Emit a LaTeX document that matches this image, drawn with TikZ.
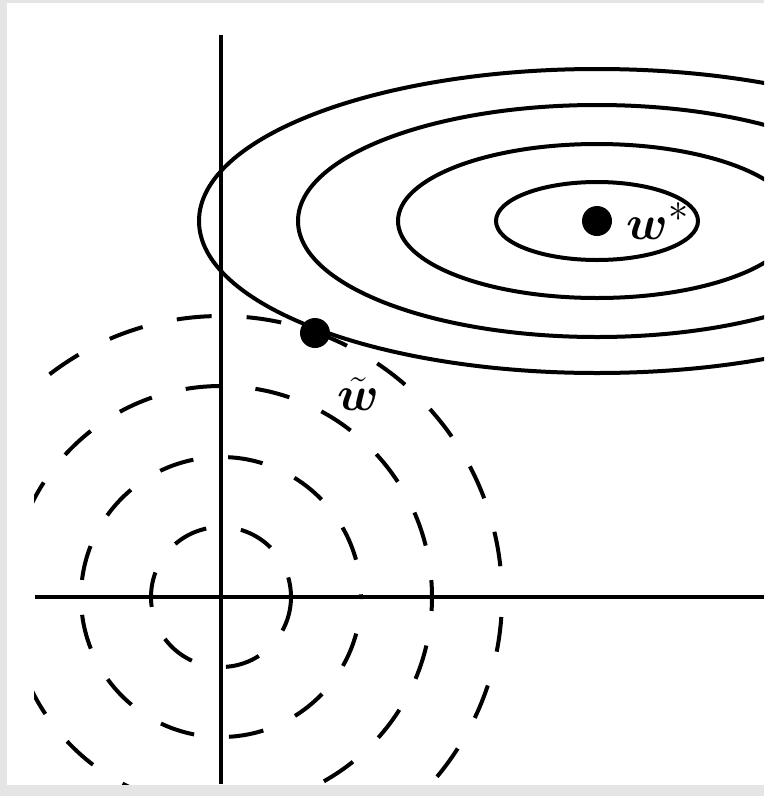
\documentclass[tikz,border=0pt]{standalone}
\usepackage{amsmath,amssymb}
\usepackage{tikz}
\usetikzlibrary{positioning}
\newcommand{\biglbl}[1]{\scalebox{1.95}{\Huge$#1$}}

\begin{document}
\begin{tikzpicture}[
x=1pt,y=-1pt,
axis/.style={line width=4.5pt},
contour/.style={line width=4pt},
ring/.style={line width=4pt,dash pattern=on 35pt off 35pt},
dot/.style={circle,fill,inner sep=0pt,minimum size=30pt},
lbl/.style={inner sep=0pt}
]
\useasboundingbox (0,0) rectangle (764,796);
\fill[gray!20] (0,0) rectangle (764,796);
\fill[white] (7,3) rectangle (764,785);
\clip (34,30) rectangle (764,784);
% axes
\coordinate (O) at (221,597);
\coordinate (xl) at (35,597);
\coordinate (xr) at (764,597);
\coordinate (yt) at (221,35);
\coordinate (yb) at (221,784);
\draw[axis] (xl)--(xr);
\draw[axis] (yt)--(yb);
% dashed rings round the origin
\foreach \rad/\ph in {70/0,140/33,211/21,281/50}
  \draw[ring,dash phase=\ph pt] (O) circle[radius=\rad];
% contours of the cost
\coordinate (C) at (597,221);
\foreach \a/\b in {101/39,199/77,299/116,398/152}
  \draw[contour] (C) ellipse[x radius=\a,y radius=\b];
\node[dot] (wstar) at (C) {};
\node[dot] (wt) at (315,333) {};
\node[lbl,right=14pt of wstar] (wslabel) {\biglbl{\boldsymbol{w}^{*}}};
\node[lbl,below right=34pt and 12pt of wt] (wtlabel) {\biglbl{\tilde{\boldsymbol{w}}}};
\end{tikzpicture}
\end{document}
